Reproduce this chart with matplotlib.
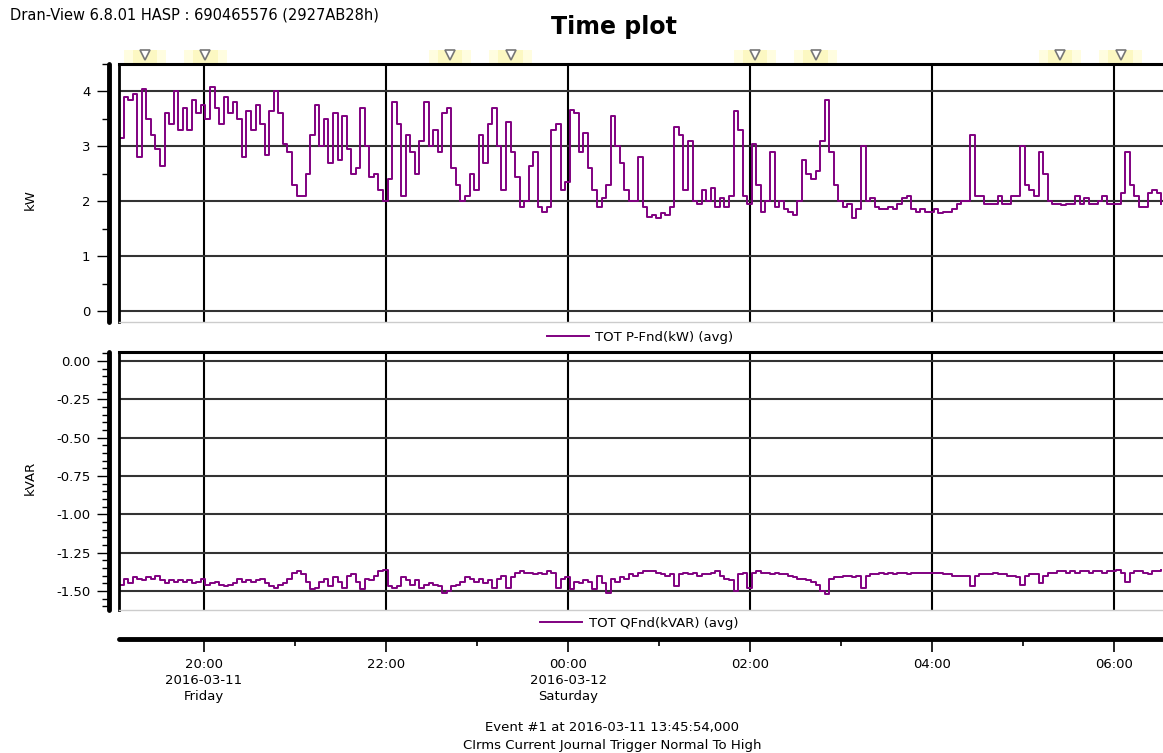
import numpy as np
import pandas as pd
import matplotlib
matplotlib.use("Agg")
import matplotlib.pyplot as plt
import matplotlib.dates as mdates
from matplotlib.patches import Rectangle
from matplotlib.transforms import blended_transform_factory

plt.rcParams['font.family'] = ['DejaVu Sans']

# 3-minute averages, 2016-03-11 19:04 -> 2016-03-12 06:31
t_start = '2016-03-11 19:04'
p_kw = [
    3.15, 3.9, 3.85, 3.95, 2.8, 4.05, 3.5, 3.2, 2.95, 2.65,
    3.6, 3.4, 4.0, 3.3, 3.7, 3.3, 3.85, 3.6, 3.75, 3.5,
    4.08, 3.7, 3.4, 3.9, 3.6, 3.8, 3.5, 2.8, 3.65, 3.3,
    3.75, 3.4, 2.85, 3.65, 4.0, 3.6, 3.05, 2.9, 2.3, 2.1,
    2.1, 2.5, 3.2, 3.75, 3.0, 3.5, 2.7, 3.6, 2.75, 3.55,
    2.95, 2.5, 2.6, 3.7, 3.0, 2.45, 2.5, 2.2, 2.0, 2.4,
    3.8, 3.4, 2.1, 3.2, 2.9, 2.5, 3.1, 3.8, 3.0, 3.3,
    2.9, 3.6, 3.7, 2.6, 2.3, 2.0, 2.1, 2.5, 2.2, 3.2,
    2.7, 3.4, 3.7, 3.0, 2.2, 3.45, 2.9, 2.45, 1.9, 2.0,
    2.65, 2.9, 1.9, 1.8, 1.9, 3.3, 3.4, 2.2, 2.35, 3.67,
    3.6, 2.9, 3.25, 2.6, 2.2, 1.9, 2.05, 2.3, 3.55, 3.0,
    2.7, 2.2, 2.0, 2.0, 2.8, 1.9, 1.72, 1.75, 1.7, 1.78,
    1.75, 1.9, 3.35, 3.2, 2.2, 3.1, 2.0, 1.95, 2.2, 2.0,
    2.25, 1.9, 2.05, 1.9, 2.1, 3.65, 3.3, 2.1, 1.95, 3.05,
    2.3, 1.8, 2.0, 2.9, 1.9, 2.0, 1.85, 1.8, 1.75, 2.0,
    2.75, 2.5, 2.4, 2.55, 3.1, 3.85, 2.9, 2.3, 2.0, 1.9,
    1.95, 1.7, 1.85, 3.0, 2.0, 2.05, 1.9, 1.85, 1.85, 1.9,
    1.85, 1.95, 2.05, 2.1, 1.85, 1.8, 1.85, 1.8, 1.8, 1.85,
    1.78, 1.8, 1.8, 1.85, 1.95, 2.0, 2.0, 3.2, 2.1, 2.1,
    1.95, 1.95, 1.95, 2.1, 1.95, 1.95, 2.1, 2.1, 3.0, 2.3,
    2.2, 2.1, 2.9, 2.5, 2.0, 1.95, 1.95, 1.93, 1.95, 1.95,
    2.1, 1.95, 2.05, 1.95, 1.95, 2.0, 2.1, 1.95, 1.95, 1.95,
    2.15, 2.9, 2.3, 2.1, 1.9, 1.9, 2.15, 2.2, 2.15, 1.95,
]
q_kvar = [
    -1.46, -1.42, -1.45, -1.41, -1.42, -1.43, -1.41, -1.42, -1.40, -1.43,
    -1.45, -1.43, -1.44, -1.43, -1.44, -1.43, -1.45, -1.44, -1.42, -1.46,
    -1.45, -1.44, -1.46, -1.47, -1.46, -1.45, -1.42, -1.44, -1.43, -1.44,
    -1.43, -1.42, -1.45, -1.47, -1.48, -1.46, -1.45, -1.42, -1.38, -1.37,
    -1.39, -1.44, -1.49, -1.48, -1.44, -1.42, -1.47, -1.41, -1.44, -1.48,
    -1.40, -1.39, -1.44, -1.49, -1.42, -1.43, -1.40, -1.37, -1.36, -1.47,
    -1.48, -1.47, -1.41, -1.43, -1.46, -1.43, -1.48, -1.46, -1.45, -1.46,
    -1.47, -1.51, -1.50, -1.47, -1.46, -1.44, -1.41, -1.42, -1.44, -1.42,
    -1.45, -1.43, -1.48, -1.42, -1.40, -1.48, -1.41, -1.38, -1.37, -1.38,
    -1.38, -1.39, -1.38, -1.39, -1.37, -1.38, -1.48, -1.42, -1.41, -1.49,
    -1.44, -1.45, -1.43, -1.44, -1.49, -1.40, -1.45, -1.51, -1.42, -1.44,
    -1.41, -1.42, -1.39, -1.40, -1.38, -1.37, -1.37, -1.37, -1.38, -1.39,
    -1.40, -1.39, -1.47, -1.39, -1.38, -1.39, -1.38, -1.40, -1.39, -1.39,
    -1.38, -1.37, -1.40, -1.42, -1.43, -1.50, -1.39, -1.38, -1.48, -1.38,
    -1.37, -1.38, -1.38, -1.39, -1.38, -1.39, -1.39, -1.40, -1.41, -1.42,
    -1.42, -1.43, -1.44, -1.46, -1.50, -1.52, -1.42, -1.41, -1.41, -1.40,
    -1.40, -1.41, -1.40, -1.48, -1.40, -1.39, -1.39, -1.38, -1.39, -1.38,
    -1.39, -1.38, -1.38, -1.39, -1.38, -1.38, -1.38, -1.38, -1.38, -1.38,
    -1.38, -1.39, -1.39, -1.40, -1.40, -1.40, -1.40, -1.47, -1.40, -1.39,
    -1.39, -1.39, -1.38, -1.39, -1.39, -1.40, -1.40, -1.41, -1.46, -1.40,
    -1.39, -1.39, -1.45, -1.40, -1.38, -1.38, -1.37, -1.37, -1.38, -1.37,
    -1.38, -1.37, -1.37, -1.38, -1.37, -1.37, -1.38, -1.37, -1.37, -1.36,
    -1.38, -1.44, -1.38, -1.37, -1.37, -1.38, -1.39, -1.37, -1.37, -1.36,
]
times = pd.date_range(t_start, periods=len(p_kw), freq='3min')

# event markers above the top panel
event_times = ['2016-03-11 19:21', '2016-03-11 20:01', '2016-03-11 22:42', '2016-03-11 23:22',
               '2016-03-12 02:03', '2016-03-12 02:43', '2016-03-12 05:24', '2016-03-12 06:04']

tick_labels = ['20:00\n2016-03-11\nFriday', '22:00', '00:00\n2016-03-12\nSaturday',
               '02:00', '04:00', '06:00']

W, H = 1163, 753
purple = '#800080'
fs = 9.5

fig = plt.figure(figsize=(W / 100, H / 100), dpi=100)
ax1 = fig.add_axes([119 / W, 1 - 322 / H, 1044 / W, 258 / H])
ax2 = fig.add_axes([119 / W, 1 - 610 / H, 1044 / W, 258 / H], sharex=ax1)
ax3 = fig.add_axes([119 / W, 1 - 639 / H, 1044 / W, 0.0001], sharex=ax1)

ax1.step(times, p_kw, where='post', color=purple, lw=1.4, label='TOT P-Fnd(kW) (avg)')
ax2.step(times, q_kvar, where='post', color=purple, lw=1.4, label='TOT QFnd(kVAR) (avg)')

ax1.set_xlim(pd.Timestamp('2016-03-11 19:04'), pd.Timestamp('2016-03-12 06:32'))
ax1.set_ylim(-0.2, 4.49)
ax2.set_ylim(-1.624, 0.0587)

for ax in (ax1, ax2, ax3):
    ax.xaxis.set_major_locator(mdates.HourLocator(byhour=range(0, 24, 2)))
    ax.xaxis.set_minor_locator(mdates.HourLocator(byhour=range(1, 24, 2)))

ax1.set_yticks([0, 1, 2, 3, 4])
ax1.set_yticks(np.arange(0, 4.6, 0.5), minor=True)
ax2.set_yticks([0.0, -0.25, -0.5, -0.75, -1.0, -1.25, -1.5])
ax2.set_yticks(np.arange(-1.6, 0.06, 0.05), minor=True)
ax2.yaxis.set_major_formatter(plt.FormatStrFormatter('%.2f'))

for ax in (ax1, ax2):
    ax.grid(axis='x', which='major', color='black', lw=1.5)
    ax.grid(axis='y', which='major', color='#333333', lw=1.5)
    ax.tick_params(axis='x', which='both', length=0, labelbottom=False)
    ax.tick_params(axis='y', which='major', direction='out', length=9, width=1,
                   labelsize=fs, pad=4)
    ax.tick_params(axis='y', which='minor', direction='out', length=5, width=1)
    ax.spines['right'].set_visible(False)
    ax.spines['bottom'].set_color('#cccccc')
    ax.spines['bottom'].set_linewidth(1)
    ax.spines['top'].set_linewidth(2.2)
    ax.spines['left'].set_position(('outward', 7.5))
    ax.spines['left'].set_linewidth(3.5)
    ax.spines['left'].set_capstyle('round')
    ax.plot([0, 0], [0, 1], transform=ax.transAxes, color='black', lw=2, clip_on=False)
    ax.set_axisbelow(True)

fig.text(30 / W, 1 - 200 / H, 'kW', fontsize=fs, rotation=90, ha='center', va='center')
fig.text(30 / W, 1 - 478 / H, 'kVAR', fontsize=fs, rotation=90, ha='center', va='center')

# separate time axis
for s in ('left', 'right', 'top'):
    ax3.spines[s].set_visible(False)
ax3.spines['bottom'].set_linewidth(3.5)
ax3.spines['bottom'].set_capstyle('round')
ax3.set_yticks([])
ax3.patch.set_alpha(0)
ax3.tick_params(axis='x', which='major', direction='out', length=9, width=1.2,
                labelsize=fs, pad=5)
ax3.tick_params(axis='x', which='minor', direction='out', length=5, width=1.2)
ax3.set_xticks(ax3.get_xticks())
ax3.set_xticklabels(tick_labels, linespacing=1.3)

# event markers
trans = blended_transform_factory(ax1.transData, ax1.transAxes)
half = pd.Timedelta(minutes=14)
for et in event_times:
    t = pd.Timestamp(et)
    x0 = mdates.date2num(t - half)
    x1 = mdates.date2num(t + half)
    ax1.add_patch(Rectangle((x0, 1.005), x1 - x0, 0.05, transform=trans,
                            facecolor='#fffde0', edgecolor='none', clip_on=False))
    xi0 = mdates.date2num(t - pd.Timedelta(minutes=8))
    xi1 = mdates.date2num(t + pd.Timedelta(minutes=8))
    ax1.add_patch(Rectangle((xi0, 1.005), xi1 - xi0, 0.05, transform=trans,
                            facecolor='#fcf8c2', edgecolor='none', clip_on=False))
    ax1.plot([t], [1.036], marker='v', ms=7, mfc='white', mec='#777777', mew=1.2,
             transform=trans, clip_on=False)

ax1.legend(loc='center', bbox_to_anchor=(640 / W, 1 - 337 / H),
           bbox_transform=fig.transFigure, frameon=False, fontsize=fs,
           handlelength=3.2, handletextpad=0.5)
ax2.legend(loc='center', bbox_to_anchor=(639 / W, 1 - 623 / H),
           bbox_transform=fig.transFigure, frameon=False, fontsize=fs,
           handlelength=3.2, handletextpad=0.5)

fig.text(10 / W, 1 - 15 / H, 'Dran-View 6.8.01 HASP : 690465576 (2927AB28h)',
         fontsize=10.5, va='center')
fig.text(614 / W, 1 - 27 / H, 'Time plot', fontsize=17, fontweight='bold',
         ha='center', va='center')
fig.text(612 / W, 1 - 728 / H, 'Event #1 at 2016-03-11 13:45:54,000',
         fontsize=fs, ha='center', va='center')
fig.text(612 / W, 1 - 745 / H, 'CIrms Current Journal Trigger Normal To High',
         fontsize=fs, ha='center', va='center')

fig.savefig('out.png', dpi=100)
